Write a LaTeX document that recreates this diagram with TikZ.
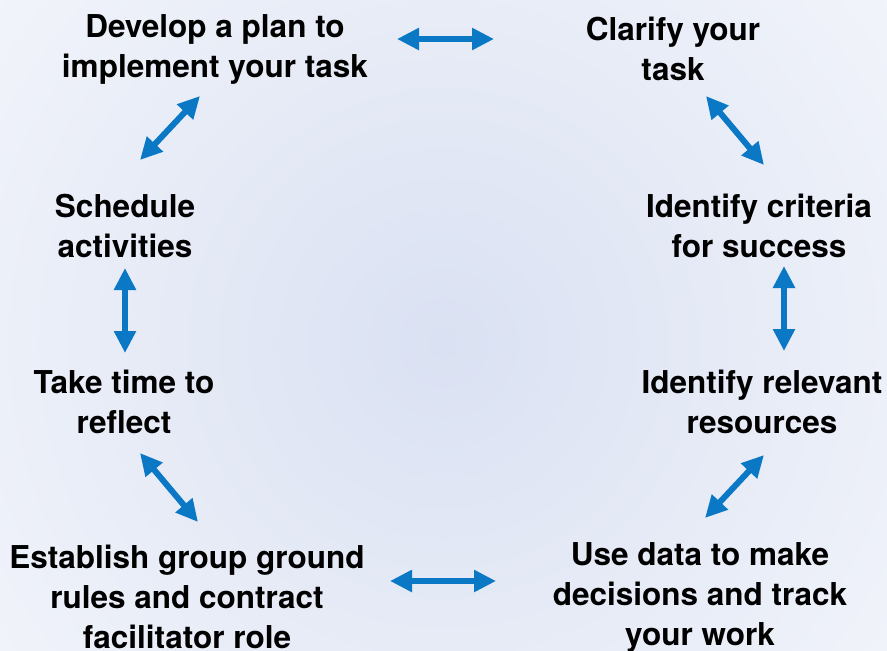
\documentclass[tikz,border=0pt]{standalone}
\usepackage{fontspec}
\setmainfont{TeX Gyre Heros}
\usetikzlibrary{arrows.meta}
\definecolor{arrowblue}{HTML}{0B78C6}
\definecolor{bgcenter}{HTML}{DAE1F2}
\begin{document}
\begin{tikzpicture}[x=1pt,y=-1pt,
  lbl/.style={font=\fontsize{31.5}{40}\selectfont\bfseries, align=center, text=black, inner sep=0pt},
  dbl/.style={{Triangle[width=21pt,length=22pt]}-{Triangle[width=21pt,length=22pt]}, line width=6pt, draw=arrowblue, fill=arrowblue}]
\useasboundingbox (0,0) rectangle (887,651);
\begin{scope}
  \clip (0,0) rectangle (887,651);
  \fill[white] (0,0) rectangle (887,651);
  \shade[inner color=bgcenter, outer color=white] (443,343) circle (900);
\end{scope}
\node[lbl] (develop) at (215,49) {Develop a plan to\\implement your task};
\node[lbl] (clarify) at (673,49) {Clarify your\\task};
\node[lbl] (criteria) at (759,226) {Identify criteria\\for success};
\node[lbl] (resources) at (762,402) {Identify relevant\\resources};
\node[lbl] (usedata) at (700,597) {Use data to make\\decisions and track\\your work};
\node[lbl] (establish) at (187,597) {Establish group ground\\rules and contract\\facilitator role};
\node[lbl] (reflect) at (124,402) {Take time to\\reflect};
\node[lbl] (schedule) at (125,226) {Schedule\\activities};
\coordinate (a1) at (397,39); \coordinate (b1) at (494,39);
\coordinate (a2) at (706,96); \coordinate (b2) at (764,165);
\coordinate (a3) at (784,266); \coordinate (b3) at (784,351);
\coordinate (a4) at (764,455); \coordinate (b4) at (705,518);
\coordinate (a5) at (390,581); \coordinate (b5) at (496,581);
\coordinate (a6) at (140,453); \coordinate (b6) at (198,522);
\coordinate (a7) at (125,268); \coordinate (b7) at (125,353);
\coordinate (a8) at (200,96); \coordinate (b8) at (140,160);
\foreach \i in {1,...,8} \draw[dbl] (a\i) -- (b\i);
\end{tikzpicture}
\end{document}
